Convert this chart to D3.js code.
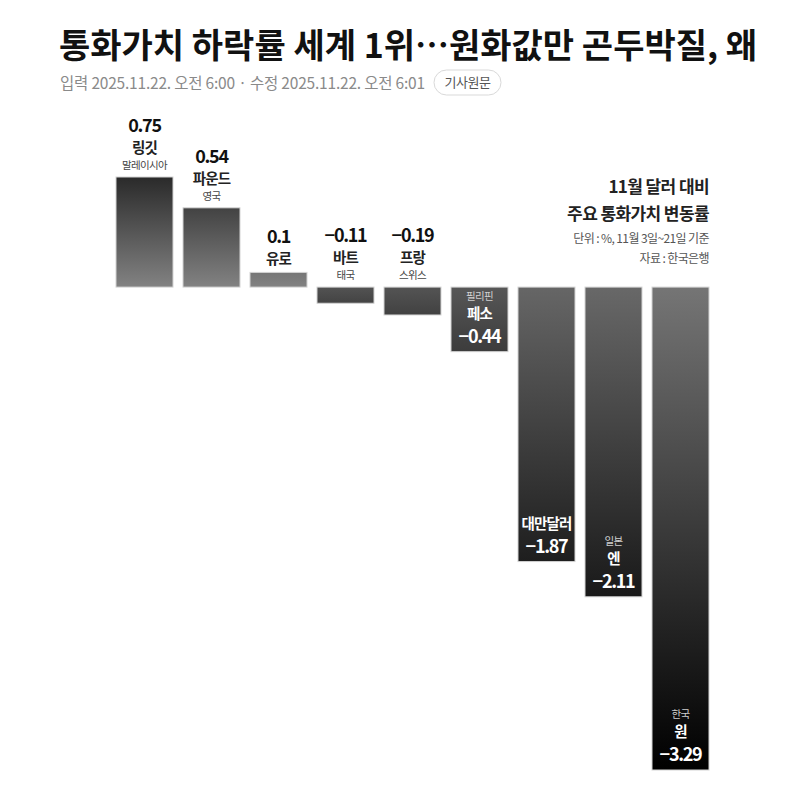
<!DOCTYPE html>
<html><head><meta charset="utf-8">
<script src="https://cdn.jsdelivr.net/npm/d3@7"></script>
<style>
body{margin:0;background:#fff;}
svg{display:block;font-family:"Noto Sans CJK KR","Noto Sans",sans-serif;}
</style></head>
<body><svg id="c" width="800" height="787"></svg>
<script>
const currencies = ["링깃","파운드","유로","바트","프랑","페소","대만달러","엔","원"];
const countries = ["말레이시아","영국","","태국","스위스","필리핀","","일본","한국"];
const values = [0.75,0.54,0.1,-0.11,-0.19,-0.44,-1.87,-2.11,-3.29];
const valueLabels = ["0.75","0.54","0.1","−0.11","−0.19","−0.44","−1.87","−2.11","−3.29"];
const headline = "통화가치 하락률 세계 1위…원화값만 곤두박질, 왜";
const byline = "입력 2025.11.22. 오전 6:00 · 수정 2025.11.22. 오전 6:01";
const pillText = "기사원문";
const chartTitle = ["11월 달러 대비","주요 통화가치 변동률"];
const chartNotes = ["단위 : %, 11월 3일~21일 기준","자료 : 한국은행"];

const svg = d3.select("#c");
const data = currencies.map((c,i)=>({cur:c, country:countries[i], v:values[i], lab:valueLabels[i], i}));

const x = d3.scaleBand().domain(currencies).range([111,714]).paddingInner(10/67).paddingOuter(5/67);
const y = d3.scaleLinear().domain([d3.min(values), d3.max(values)]).range([770,177]);
const minV = d3.min(values);

// header
svg.append("text").attr("x",59).attr("y",58).attr("font-size",34).attr("font-weight",700)
  .attr("fill","#111").attr("letter-spacing",0).text(headline);
svg.append("text").attr("x",60).attr("y",89).attr("font-size",15.5).attr("fill","#8a8a8a")
  .attr("letter-spacing",-0.2).text(byline);
const pill = svg.append("g");
pill.append("rect").attr("x",434).attr("y",70).attr("width",67).attr("height",25).attr("rx",12.5)
  .attr("fill","#fff").attr("stroke","#d9d9d9");
pill.append("text").attr("x",467.5).attr("y",87).attr("text-anchor","middle").attr("font-size",13)
  .attr("fill","#555").attr("letter-spacing",-0.4).text(pillText);

// chart title
chartTitle.forEach((t,k)=>svg.append("text").attr("x",709).attr("y",193+k*27).attr("text-anchor","end")
  .attr("font-size",17).attr("font-weight",700).attr("fill","#222").attr("letter-spacing",-0.6).text(t));
chartNotes.forEach((t,k)=>svg.append("text").attr("x",709).attr("y",243+k*20).attr("text-anchor","end")
  .attr("font-size",12).attr("fill","#555").attr("letter-spacing",-0.6).text(t));

// gradients
const defs = svg.append("defs");
const posG = defs.append("linearGradient").attr("id","gpos").attr("gradientUnits","userSpaceOnUse")
  .attr("x1",0).attr("x2",0).attr("y1",y(d3.max(values))).attr("y2",y(0));
posG.append("stop").attr("offset",0).attr("stop-color","#2a2a2a");
posG.append("stop").attr("offset",1).attr("stop-color","#828282");
data.filter(d=>d.v<0).forEach(d=>{
  const t = d.v/minV;
  const g = defs.append("linearGradient").attr("id","g"+d.i).attr("x1",0).attr("x2",0).attr("y1",0).attr("y2",1);
  g.append("stop").attr("offset",0).attr("stop-color",d3.interpolateRgb("#525252","#757575")(t));
  g.append("stop").attr("offset",1).attr("stop-color",d3.interpolateRgb("#454545","#000000")(t));
});

// bars
svg.append("g").selectAll("rect").data(data).join("rect")
  .attr("x",d=>x(d.cur)).attr("width",x.bandwidth())
  .attr("y",d=>y(Math.max(0,d.v))).attr("height",d=>Math.abs(y(d.v)-y(0)))
  .attr("fill",d=>d.v>=0?"url(#gpos)":"url(#g"+d.i+")")
  .attr("stroke","#d4d4d4").attr("stroke-width",1);

// labels
const lg = svg.append("g").attr("text-anchor","middle");
data.forEach(d=>{
  const cx = x(d.cur)+x.bandwidth()/2;
  const inside = d.v < -0.3;
  if(!inside){
    const ref = y(Math.max(0,d.v));
    const hasC = d.country!=="";
    const off = hasC?0:16;
    lg.append("text").attr("x",cx).attr("y",ref-45+off).attr("font-size",18).attr("font-weight",700)
      .attr("fill","#111").attr("letter-spacing",-1.3).text(d.lab);
    lg.append("text").attr("x",cx).attr("y",ref-24+off).attr("font-size",14.5).attr("font-weight",700)
      .attr("fill","#222").attr("letter-spacing",-0.8).text(d.cur);
    if(hasC) lg.append("text").attr("x",cx).attr("y",ref-8).attr("font-size",10.5).attr("fill","#444")
      .attr("letter-spacing",-0.7).text(d.country);
  } else {
    const b = y(d.v);
    lg.append("text").attr("x",cx).attr("y",b-9).attr("font-size",18).attr("font-weight",700)
      .attr("fill","#fff").attr("letter-spacing",-1.3).text(d.lab);
    lg.append("text").attr("x",cx).attr("y",b-33).attr("font-size",14.5).attr("font-weight",700)
      .attr("fill","#fff").attr("letter-spacing",-0.8).text(d.cur);
    if(d.country) lg.append("text").attr("x",cx).attr("y",b-52).attr("font-size",10.5)
      .attr("fill","#cfcfcf").attr("letter-spacing",-0.7).text(d.country);
  }
});
</script></body></html>
